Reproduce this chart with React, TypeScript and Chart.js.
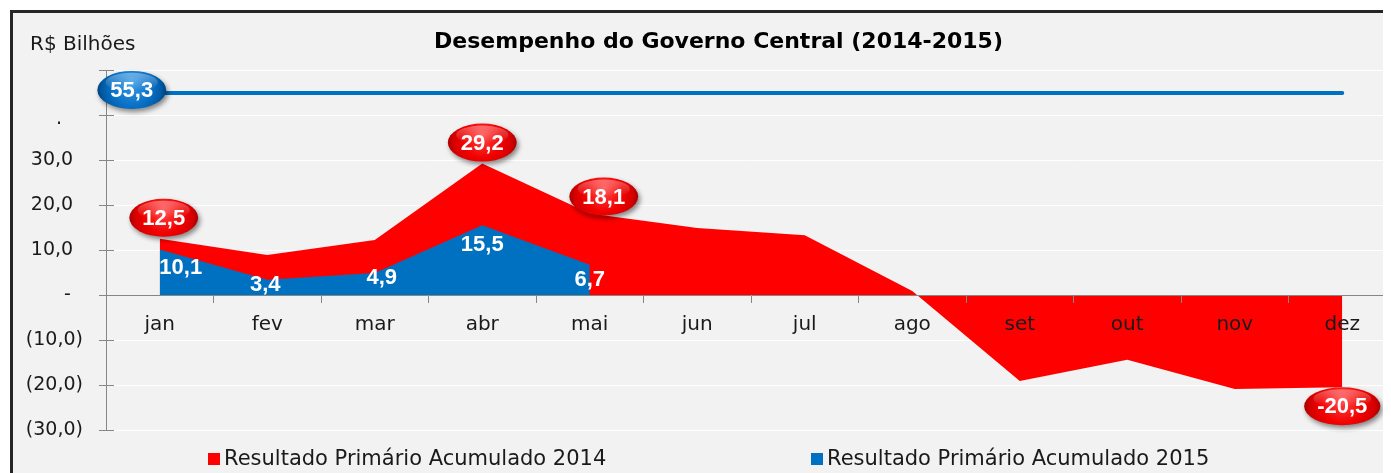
import React, { useEffect, useRef } from "react";
import { Chart, registerables } from "chart.js";

Chart.register(...registerables);

// ---------- data ----------
const months = ["jan", "fev", "mar", "abr", "mai", "jun", "jul", "ago", "set", "out", "nov", "dez"];
const resultado2014 = [12.5, 8.9, 12.2, 29.2, 18.1, 14.9, 13.3, 0.9, -19.1, -14.4, -20.9, -20.5];
const resultado2015 = [10.1, 3.4, 4.9, 15.5, 6.7, null, null, null, null, null, null, null];
const metaValue = 55.3;
const metaLine = months.map(() => metaValue);
const seriesNames = ["Resultado Primário Acumulado 2014", "Resultado Primário Acumulado 2015"];
const chartTitle = "Desempenho do Governo Central (2014-2015)";
const unitLabel = "R$ Bilhões";
const yMin = -30;
const yMax = 50;
const yStep = 10;

// ---------- styling ----------
const RED = "#ff0000";
const BLUE = "#0070c0";
const AXIS = "#868686";
const TEXT = "#1a1a1a";
const FAMILY = "'DejaVu Sans', sans-serif";
const LABEL_FONT = "bold 22px 'Liberation Sans', Arial, sans-serif";

// label placement offsets (pixels, relative to the data point)
const bubbles2014 = [
  { i: 0, dx: 4, dy: -21 },
  { i: 3, dx: 0, dy: -21 },
  { i: 4, dx: 14, dy: -17 },
  { i: 11, dx: 0, dy: 19 },
];
const labels2015 = [
  { i: 0, dx: 21, dy: 18 },
  { i: 1, dx: -2, dy: 5 },
  { i: 2, dx: 7, dy: 5 },
  { i: 3, dx: 0, dy: 20 },
  { i: 4, dx: 0, dy: 15 },
];
const metaBubble = { i: 0, dx: -28, dy: -3 };

const fmt = (v: number) => v.toFixed(1).replace(".", ",");

function tickLabel(v: number): string {
  if (v === 50 || v === 40) return "";
  if (v === 0) return "-  ";
  const s = fmt(Math.abs(v));
  return v < 0 ? `(${s})` : `${s} \u2009`;
}

function drawBubble(
  ctx: CanvasRenderingContext2D,
  cx: number,
  cy: number,
  text: string,
  colors: [string, string, string, string]
) {
  ctx.save();
  ctx.font = LABEL_FONT;
  const tw = ctx.measureText(text).width;
  const w = tw + 26;
  const h = 38;
  ctx.shadowColor = "rgba(0,0,0,0.45)";
  ctx.shadowBlur = 5;
  ctx.shadowOffsetX = 2;
  ctx.shadowOffsetY = 3;
  ctx.beginPath();
  ctx.ellipse(cx, cy, w / 2, h / 2, 0, 0, Math.PI * 2);
  const g = ctx.createRadialGradient(cx, cy - h * 0.2, 0, cx, cy, w / 2);
  g.addColorStop(0, colors[0]);
  g.addColorStop(0.55, colors[1]);
  g.addColorStop(0.85, colors[2]);
  g.addColorStop(1, colors[3]);
  ctx.fillStyle = g;
  ctx.fill();
  ctx.shadowColor = "transparent";
  // gloss
  ctx.beginPath();
  ctx.ellipse(cx, cy - h * 0.2, w * 0.38, h * 0.25, 0, 0, Math.PI * 2);
  const g2 = ctx.createLinearGradient(cx, cy - h * 0.45, cx, cy);
  g2.addColorStop(0, "rgba(255,255,255,0.35)");
  g2.addColorStop(1, "rgba(255,255,255,0)");
  ctx.fillStyle = g2;
  ctx.fill();
  ctx.fillStyle = "#ffffff";
  ctx.textAlign = "center";
  ctx.textBaseline = "middle";
  ctx.fillText(text, cx, cy + 1);
  ctx.restore();
}

const RED_BUBBLE: [string, string, string, string] = ["#ff4a4a", "#f20000", "#d40000", "#a80000"];
const BLUE_BUBBLE: [string, string, string, string] = ["#3a9be6", "#0a72c8", "#005ba6", "#00427e"];

const decorPlugin = {
  id: "decor",
  beforeDatasetsDraw(chart: any) {
    const ctx = chart.ctx as CanvasRenderingContext2D;
    const y = chart.scales.y;
    const x0 = chart.chartArea.left;
    ctx.save();
    ctx.strokeStyle = AXIS;
    ctx.lineWidth = 1;
    y.ticks.forEach((t: any) => {
      const py = Math.round(y.getPixelForValue(t.value)) + 0.5;
      ctx.beginPath();
      ctx.moveTo(x0, py);
      ctx.lineTo(x0 + 8, py);
      ctx.stroke();
    });
    // stray mark next to the 40 tick
    ctx.fillStyle = TEXT;
    ctx.font = `19px ${FAMILY}`;
    ctx.textAlign = "center";
    ctx.textBaseline = "middle";
    ctx.fillText(".", 46, y.getPixelForValue(40) + 4);
    ctx.restore();
  },
  afterDraw(chart: any) {
    const ctx = chart.ctx as CanvasRenderingContext2D;
    ctx.save();
    // title
    ctx.fillStyle = "#000";
    ctx.font = `bold 22px ${FAMILY}`;
    ctx.textAlign = "center";
    ctx.textBaseline = "middle";
    ctx.fillText(chartTitle, 705.5, 29);
    // unit
    ctx.font = `20px ${FAMILY}`;
    ctx.fillStyle = TEXT;
    ctx.textAlign = "left";
    ctx.fillText(unitLabel, 17, 32);
    // legend
    const legendX = [195, 798];
    const legendY = 446;
    ctx.font = `21px ${FAMILY}`;
    [0, 1].forEach((k) => {
      const ds = chart.data.datasets[k];
      ctx.fillStyle = ds.backgroundColor;
      ctx.fillRect(legendX[k], legendY - 6, 12, 12);
      ctx.fillStyle = TEXT;
      ctx.fillText(seriesNames[k], legendX[k] + 16, legendY + 1);
    });
    ctx.restore();

    // labels 2015 (plain white text)
    const m15 = chart.getDatasetMeta(1);
    ctx.save();
    ctx.font = LABEL_FONT;
    ctx.fillStyle = "#ffffff";
    ctx.textAlign = "center";
    ctx.textBaseline = "middle";
    labels2015.forEach((l) => {
      const p = m15.data[l.i];
      ctx.fillText(fmt(resultado2015[l.i] as number), p.x + l.dx, p.y + l.dy);
    });
    ctx.restore();

    // bubbles 2014
    const m14 = chart.getDatasetMeta(0);
    bubbles2014.forEach((b) => {
      const p = m14.data[b.i];
      drawBubble(ctx, p.x + b.dx, p.y + b.dy, fmt(resultado2014[b.i]), RED_BUBBLE);
    });
    // meta bubble
    const mm = chart.getDatasetMeta(2);
    const pm = mm.data[metaBubble.i];
    drawBubble(ctx, pm.x + metaBubble.dx, pm.y + metaBubble.dy, fmt(metaValue), BLUE_BUBBLE);
  },
};

export default function App() {
  const ref = useRef<HTMLCanvasElement | null>(null);
  useEffect(() => {
    if (!ref.current) return;
    const chart = new Chart(ref.current, {
      type: "line",
      data: {
        labels: months,
        datasets: [
          {
            label: seriesNames[0],
            data: resultado2014,
            borderWidth: 0,
            borderColor: RED,
            backgroundColor: RED,
            fill: "origin",
            pointRadius: 0,
            tension: 0,
            order: 3,
          },
          {
            label: seriesNames[1],
            data: resultado2015,
            borderWidth: 0,
            borderColor: BLUE,
            backgroundColor: BLUE,
            fill: "origin",
            pointRadius: 0,
            tension: 0,
            order: 2,
          },
          {
            label: "Meta",
            data: metaLine,
            yAxisID: "y2",
            borderColor: BLUE,
            backgroundColor: BLUE,
            borderWidth: 4,
            borderCapStyle: "round",
            fill: false,
            pointRadius: 0,
            order: 1,
          },
        ] as any,
      },
      options: {
        animation: false,
        responsive: false,
        layout: { padding: { left: 0, right: 28, top: 57, bottom: 53 } },
        plugins: {
          legend: { display: false },
          title: { display: false },
          tooltip: { enabled: false },
        },
        scales: {
          x: {
            position: { y: 0 } as any,
            offset: true,
            grid: {
              offset: true,
              drawOnChartArea: false,
              tickLength: 7,
              tickColor: AXIS,
              color: AXIS,
              z: 1,
            },
            border: { color: AXIS, width: 1, z: 1 },
            ticks: {
              color: TEXT,
              font: { family: FAMILY, size: 20 },
              padding: 11,
              maxRotation: 0,
              autoSkip: false,
              z: 1,
            },
          },
          y: {
            min: yMin,
            max: yMax,
            ticks: {
              stepSize: yStep,
              callback: (v: any) => tickLabel(Number(v)),
              color: TEXT,
              font: { family: FAMILY, size: 19 },
              padding: 16,
            },
            grid: { color: "#ffffff", tickColor: AXIS, tickLength: 7, lineWidth: 1 },
            border: { color: AXIS, width: 1 },
            afterFit: (s: any) => {
              s.width = 93;
              s.paddingTop = 0;
              s.paddingBottom = 0;
            },
          },
          y2: { display: false, min: -30, max: 61.1 },
        },
      } as any,
      plugins: [decorPlugin as any],
    });
    return () => chart.destroy();
  }, []);

  return (
    <div
      style={{
        width: 1383,
        height: 465,
        overflow: "hidden",
        paddingLeft: 2,
        paddingTop: 2,
        boxSizing: "border-box",
      }}
    >
      <div
        style={{
          width: 1417,
          height: 476,
          border: "3px solid #262626",
          background: "#f2f2f2",
          boxSizing: "border-box",
        }}
      >
        <canvas ref={ref} width={1411} height={470} style={{ display: "block" }} />
      </div>
    </div>
  );
}
